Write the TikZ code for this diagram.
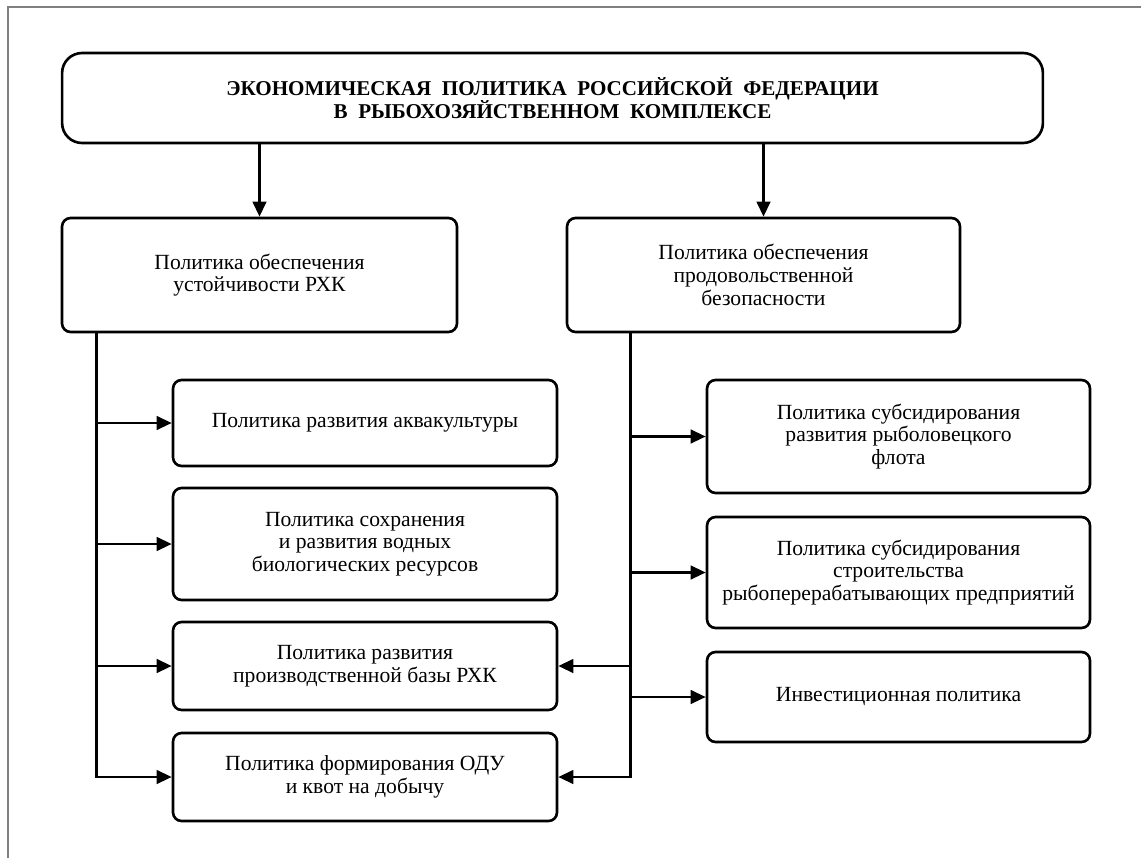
\documentclass[tikz,border=0pt]{standalone}
\usepackage{fontspec}
\setmainfont{Liberation Serif}
\usetikzlibrary{arrows.meta}
\usetikzlibrary{positioning}

\begin{document}
\begin{tikzpicture}[%
x={(0.02cm,0cm)},
y={(0cm,-0.02cm)},
box/.style={draw, line width=1.5pt, rounded corners=0.17cm, align=center,
  inner sep=0pt, minimum width=7.68cm, font=\fontsize{12.3}{12.9}\selectfont},
kopf/.style={box, rounded corners=0.4cm, minimum width=19.62cm,
  minimum height=1.8cm, font=\fontsize{12}{13.4}\selectfont\bfseries},
pfeil/.style={line width=1.5pt, -{Triangle[length=0.3cm, width=0.27cm]}},
]

\useasboundingbox (0,0) rectangle (1141,858);

%Rahmen
\draw[gray, line width=0.6pt] (8,858) -- (8,7) -- (1141,7);

%Knoten
\node[kopf] (K) at (552.5,98)
  {ЭКОНОМИЧЕСКАЯ\ \ ПОЛИТИКА\ \ РОССИЙСКОЙ\ \ ФЕДЕРАЦИИ\\В\ \ РЫБОХОЗЯЙСТВЕННОМ\ \ КОМПЛЕКСЕ};

\node[box, minimum width=7.9cm, minimum height=2.28cm] (L) at (259.5,275)
  {Политика обеспечения\\устойчивости РХК};
\node[box, minimum width=7.86cm, minimum height=2.28cm] (R) at (763.5,275)
  {Политика обеспечения\\продовольственной\\безопасности};

\node[box, minimum height=1.72cm] (L1) at (365,423) {Политика развития аквакультуры};
\node[box, minimum height=2.24cm] (L2) at (365,544) {Политика сохранения\\и развития водных\\биологических ресурсов};
\node[box, minimum height=1.76cm] (L3) at (365,666) {Политика развития\\производственной базы РХК};
\node[box, minimum height=1.76cm] (L4) at (365,777) {Политика формирования ОДУ\\и квот на добычу};

\node[box, minimum width=7.66cm, minimum height=2.26cm] (R1) at (898.5,436.5)
  {Политика субсидирования\\развития рыболовецкого\\флота};
\node[box, minimum width=7.66cm, minimum height=2.22cm] (R2) at (898.5,572.5)
  {Политика субсидирования\\строительства\\рыбоперерабатывающих предприятий};
\node[box, minimum width=7.66cm, minimum height=1.8cm] (R3) at (898.5,697)
  {Инвестиционная политика};

\coordinate (LS) at ([xshift=0.72cm]L.south west);
\coordinate (RS) at ([xshift=1.3cm]R.south west);

%Pfeile
\draw[pfeil] (K.south -| L.north) -- (L.north);
\draw[pfeil] (K.south -| R.north) -- (R.north);

\draw[pfeil] (LS) |- (L4.west);
\foreach \n in {L1,L2,L3}
  \draw[pfeil] (LS |- \n.west) -- (\n.west);

\draw[pfeil] (RS) |- (L4.east);
\draw[pfeil] (RS |- L3.east) -- (L3.east);
\foreach \n in {R1,R2,R3}
  \draw[pfeil] (RS |- \n.west) -- (\n.west);

\end{tikzpicture}
\end{document}
